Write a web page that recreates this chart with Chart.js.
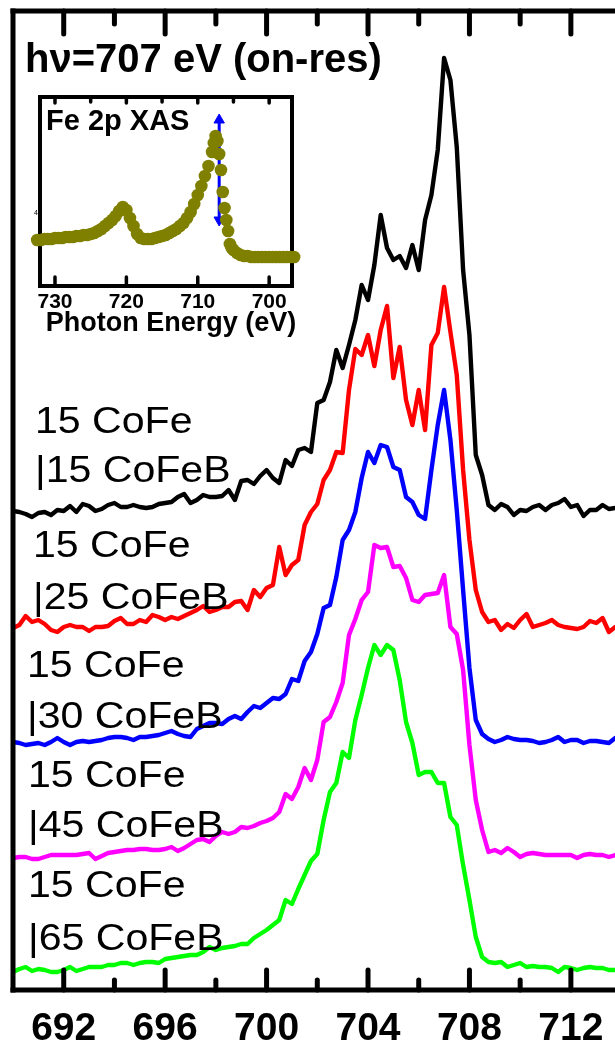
<!DOCTYPE html>
<html><head><meta charset="utf-8">
<script src="https://cdn.jsdelivr.net/npm/chart.js@4/dist/chart.umd.min.js"></script>
<style>
html,body{margin:0;padding:0;background:#fff;width:615px;height:1050px;overflow:hidden}
#c1{position:absolute;left:0;top:0}
#c2{position:absolute;left:0;top:80px}
</style></head><body>
<canvas id="c1" width="615" height="1050"></canvas>
<canvas id="c2" width="330" height="270"></canvas>
<script>
// ---------- main panel data (binding energy, eV; intensity in arb. units incl. vertical offset) ----------
const energy = [690,690.25,690.5,690.75,691,691.25,691.5,691.75,692,692.25,692.5,692.75,693,693.25,693.5,693.75,694,694.25,694.5,694.75,695,695.25,695.5,695.75,696,696.25,696.5,696.75,697,697.25,697.5,697.75,698,698.25,698.5,698.75,699,699.25,699.5,699.75,700,700.25,700.5,700.75,701,701.25,701.5,701.75,702,702.25,702.5,702.75,703,703.25,703.5,703.75,704,704.25,704.5,704.75,705,705.25,705.5,705.75,706,706.25,706.5,706.75,707,707.25,707.5,707.75,708,708.25,708.5,708.75,709,709.25,709.5,709.75,710,710.25,710.5,710.75,711,711.25,711.5,711.75,712,712.25,712.5,712.75,713,713.25,713.5,713.75];

const cofeb15 = [479,478,476,473,477,478,475,480,479,484,478,486,484,479,481,485,487,483,483,485,483,482,483,486,487,488,493,496,487,490,495,493,493,494,500,490,509,510,506,514,520,512,507,530,524,540,542,538,587,590,608,640,622,645,670,705,690,725,775,742,730,734,722,745,720,770,795,840,932,910,843,720,655,535,515,485,480,486,483,475,480,479,483,485,480,485,487,491,483,485,474,480,480,485,481,482];
const cofeb25 = [362,365,374,368,370,366,360,358,363,365,363,363,359,363,363,364,369,372,366,366,370,368,375,373,370,373,371,374,377,380,384,378,380,383,383,388,389,380,400,393,402,405,443,415,425,430,465,478,486,510,520,538,537,600,641,635,655,624,660,684,612,643,590,565,600,560,645,657,703,658,615,520,450,400,378,368,370,360,366,362,370,376,363,365,367,370,365,363,362,361,363,369,367,372,358,363];
const cofeb30 = [248,247,245,246,247,245,248,252,248,245,248,249,248,249,250,252,253,253,252,250,253,253,254,255,257,259,256,254,253,261,264,267,267,266,271,274,271,278,284,282,287,292,291,296,311,309,329,338,356,382,385,413,450,460,478,512,538,527,545,543,523,520,493,488,475,471,520,565,600,550,480,400,322,270,256,251,248,250,253,251,250,250,249,247,248,250,253,248,250,250,247,249,249,248,247,252];
const cofeb45 = [132,133,133,131,131,133,135,135,135,135,135,136,137,131,134,137,138,139,140,140,141,141,140,140,141,143,139,142,146,150,151,148,154,158,156,158,163,162,164,167,169,172,178,196,191,203,222,210,230,268,273,288,307,355,371,390,398,445,442,443,423,424,412,390,388,395,396,397,415,363,356,320,245,190,160,138,140,137,142,138,133,136,137,136,135,135,135,135,135,132,135,136,135,135,133,135];
const cofeb65 = [18,21,23,19,21,20,18,18,20,23,19,21,23,23,23,25,25,27,27,25,27,28,28,27,31,32,33,34,35,35,38,43,40,42,43,44,46,46,52,56,60,65,70,90,86,101,115,129,136,170,198,207,238,232,270,295,322,345,335,345,340,310,268,247,215,218,218,207,207,173,165,125,90,53,33,28,27,28,23,25,27,23,24,23,23,22,18,23,22,20,22,23,22,22,20,20];

const seriesValues = [cofeb15, cofeb25, cofeb30, cofeb45, cofeb65];
const seriesNames = ['15 CoFe|15 CoFeB','15 CoFe|25 CoFeB','15 CoFe|30 CoFeB','15 CoFe|45 CoFeB','15 CoFe|65 CoFeB'];
const labelLine1 = ['15 CoFe','15 CoFe','15 CoFe','15 CoFe','15 CoFe'];
const labelLine2 = ['|15 CoFeB','|25 CoFeB','|30 CoFeB','|45 CoFeB','|65 CoFeB'];
const seriesColors = ['#000000','#ff0000','#0000ff','#ff00ff','#00ff00'];
const majorTickLabels = ['692','696','700','704','708','712'];
const minorTickValues = [694,698,702,706,710];
const titleText = 'h\u03bd=707 eV (on-res)';

// ---------- inset data (Fe 2p XAS, photon energy eV) ----------
const xasEnergy = [732.5,732,731.5,731,730.5,730,729.5,729,728.5,728,727.5,727,726.5,726,725.5,725,724.5,724,723.5,723,722.5,722,721.5,721,720.5,720,719.5,719,718.5,718,717.5,717,716.5,716,715.5,715,714.5,714,713.5,713,712.5,712,711.5,711,710.5,710,709.5,709,708.5,708,707.75,707.5,707.25,707,706.75,706.5,706.25,706,705.75,705.5,705.25,705,704.5,704,703.5,703,702.5,702,701.5,701,700.5,700,699.5,699,698.5,698,697.5,697,696.5];
const xasIntensity = [46,46,47,47,47,48,48,48,49,49,49,50,50,51,51,52,53,55,57,60,63,66,70,75,79,76,68,60,52,48,47,47,47,48,49,50,51,53,55,57,60,63,68,74,82,91,100,110,120,134,143,150,145,132,116,94,78,66,55,42,38,36,33,31,30,30,29,29,29,29,29,29,29,29,29,29,29,29,29];
const arrowEnergy = [707,707];
const arrowIntensity = [166,66];
const insetMajorTicks = ['730','720','710','700'];
const insetMinorTicks = [725,715,705];
const insetTitle = 'Fe 2p XAS';
const insetXTitle = 'Photon Energy (eV)';

const FONT = '"Liberation Sans", Arial, Helvetica, sans-serif';

function vTick(ctx, x, y0, len, w) {
  ctx.beginPath();
  ctx.lineWidth = w;
  ctx.lineCap = 'round';
  ctx.moveTo(x, y0);
  ctx.lineTo(x, y0 + len);
  ctx.stroke();
}

// ---------- main chart ----------
const mainFrame = {
  id: 'mainFrame',
  afterDraw(chart) {
    const ctx = chart.ctx, xs = chart.scales.x;
    const a = chart.chartArea;
    ctx.save();
    ctx.fillStyle = '#000';
    ctx.strokeStyle = '#000';
    // frame: left, top, bottom
    ctx.fillRect(a.left - 2.5, a.top - 2.5, 5, a.bottom - a.top + 5);
    ctx.fillRect(a.left - 2.5, a.top - 2.5, a.right - a.left + 10, 5);
    ctx.fillRect(a.left - 2.5, a.bottom - 2.5, a.right - a.left + 10, 5);
    majorTickLabels.forEach(t => {
      const px = xs.getPixelForValue(+t);
      vTick(ctx, px, a.bottom, -20, 5);
      vTick(ctx, px, a.top, 23, 5);
    });
    minorTickValues.forEach(v => {
      const px = xs.getPixelForValue(v);
      vTick(ctx, px, a.bottom, -10, 5);
      vTick(ctx, px, a.top, 13, 5);
    });
    ctx.font = 'bold 39px ' + FONT;
    ctx.textAlign = 'center';
    ctx.textBaseline = 'alphabetic';
    majorTickLabels.forEach(t => {
      ctx.fillText(t, xs.getPixelForValue(+t), a.bottom + 50);
    });
    ctx.textAlign = 'left';
    ctx.font = 'bold 40px ' + FONT;
    ctx.fillText(titleText, 25, 72);
    // series labels
    ctx.font = '37px ' + FONT;
    const lx = [35, 33, 27, 28, 28];
    const ly1 = [433, 557, 677, 787, 897];
    const ly2 = [482, 609, 728, 837, 950];
    for (let i = 0; i < labelLine1.length; i++) {
      ctx.save();
      ctx.translate(lx[i], 0);
      ctx.scale(1.11, 1);
      ctx.fillText(labelLine1[i], 0, ly1[i]);
      ctx.fillText(labelLine2[i], 0, ly2[i]);
      ctx.restore();
    }
    ctx.restore();
  }
};

new Chart(document.getElementById('c1'), {
  type: 'line',
  data: {
    labels: energy,
    datasets: seriesValues.map((vals, i) => ({
      label: seriesNames[i],
      data: energy.map((e, j) => ({x: e, y: vals[j]})),
      borderColor: seriesColors[i],
      borderWidth: 4.4,
      pointRadius: 0,
      tension: 0,
      fill: false,
      borderJoinStyle: 'round',
      borderCapStyle: 'round'
    }))
  },
  options: {
    responsive: false,
    devicePixelRatio: 1,
    animation: false,
    events: [],
    layout: {padding: {left: 13, right: 0, top: 11, bottom: 60}},
    scales: {
      x: {type: 'linear', min: 690, max: 713.74, display: false},
      y: {type: 'linear', min: 0, max: 979, display: false}
    },
    plugins: {legend: {display: false}, tooltip: {enabled: false}}
  },
  plugins: [mainFrame]
});

// ---------- inset chart ----------
const insetFrame = {
  id: 'insetFrame',
  beforeDatasetsDraw(chart) {
    const ctx = chart.ctx, xs = chart.scales.x;
    const a = chart.chartArea;
    ctx.save();
    ctx.fillStyle = '#000';
    ctx.strokeStyle = '#000';
    const w = 4;
    ctx.fillRect(a.left - w / 2, a.top - w / 2, a.right - a.left + w, w);
    ctx.fillRect(a.left - w / 2, a.bottom - w / 2, a.right - a.left + w, w);
    ctx.fillRect(a.left - w / 2, a.top - w / 2, w, a.bottom - a.top + w);
    ctx.fillRect(a.right - w / 2, a.top - w / 2, w, a.bottom - a.top + w);
    insetMajorTicks.forEach(t => {
      const px = xs.getPixelForValue(+t);
      vTick(ctx, px, a.bottom, -9, 3.5);
      vTick(ctx, px, a.top, 6, 3.5);
    });
    insetMinorTicks.forEach(v => {
      vTick(ctx, xs.getPixelForValue(v), a.top, 5, 3.5);
    });
    ctx.font = 'bold 21px ' + FONT;
    ctx.textAlign = 'center';
    ctx.textBaseline = 'alphabetic';
    insetMajorTicks.forEach(t => ctx.fillText(t, xs.getPixelForValue(+t), a.bottom + 22));
    ctx.font = 'bold 27px ' + FONT;
    ctx.fillText(insetXTitle, (a.left + a.right) / 2 + 5, a.bottom + 45);
    ctx.textAlign = 'left';
    ctx.font = 'bold 29px ' + FONT;
    ctx.fillText(insetTitle, a.left + 6, a.top + 33);
    ctx.font = '7px ' + FONT;
    ctx.fillText('4', a.left - 6, chart.scales.y.getPixelForValue(74) + 3);
    ctx.restore();
  }
};

new Chart(document.getElementById('c2'), {
  type: 'scatter',
  data: {
    datasets: [
      {
        label: 'Fe 2p XAS',
        data: xasEnergy.map((e, j) => ({x: e, y: xasIntensity[j]})),
        showLine: false,
        pointRadius: 6.3,
        pointBackgroundColor: '#808000',
        pointBorderWidth: 0,
        clip: false
      },
      {
        label: 'hv',
        data: arrowEnergy.map((e, j) => ({x: e, y: arrowIntensity[j]})),
        showLine: true,
        borderColor: '#0000ff',
        borderWidth: 3,
        pointStyle: 'triangle',
        pointRadius: 6,
        pointRotation: [0, 180],
        pointBackgroundColor: '#0000ff',
        pointBorderColor: '#0000ff',
        pointBorderWidth: 1,
        clip: false
      }
    ]
  },
  options: {
    responsive: false,
    devicePixelRatio: 1,
    animation: false,
    events: [],
    layout: {padding: {left: 40, right: 38, top: 17, bottom: 64}},
    scales: {
      x: {type: 'linear', min: 696.8, max: 732.1, reverse: true, display: false},
      y: {type: 'linear', min: 0, max: 189, display: false}
    },
    plugins: {legend: {display: false}, tooltip: {enabled: false}}
  },
  plugins: [insetFrame]
});
</script>
</body></html>
